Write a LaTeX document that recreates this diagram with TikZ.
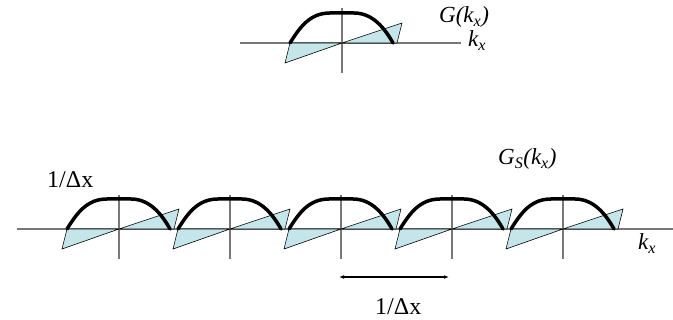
\documentclass[tikz,border=0pt]{standalone}
\usepackage{fontspec}
\setmainfont{Liberation Serif}
\usetikzlibrary{arrows.meta}
\definecolor{specBlue}{RGB}{196, 230, 234}
\definecolor{axisGray}{RGB}{120, 120, 120}
\tikzset{
    axisline/.style={draw=axisGray, line width=1.3},
    italabel/.style={inner sep=0, anchor=base west, font=\fontsize{23}{27}\selectfont\itshape},
    uplabel/.style={inner sep=0, anchor=base west, font=\fontsize{24}{28}\selectfont},
    spectrum/.pic={
        \filldraw[fill=specBlue, draw=black, line width=0.6] (-52,0) -- (-57,20) -- (0,0) -- cycle;
        \filldraw[fill=specBlue, draw=black, line width=0.6] (0,0) -- (60,-20) -- (55,0) -- cycle;
        \draw[black, line width=3.5, line cap=round] (-52,0) .. controls (-42,-16) and (-32,-30) .. (-12,-30)
            -- (12,-30) .. controls (30,-30) and (42,-16) .. (51,0);
    }
}

\begin{document}
\begin{tikzpicture}[x=1pt, y=-1pt]
    \useasboundingbox (0,0) rectangle (673,320);
    % original spectrum
    \coordinate (T0) at (342,43);
    \draw[axisline] (240,43) -- (461,43);
    \draw[axisline] (342,8) -- (342,73);
    \pic at (T0) {spectrum};
    \node[italabel] (gk) at (439,23) {G(k\textsubscript{x})};
    \node[italabel] (kt) at (468,47) {k\textsubscript{x}};
    % sampled spectrum
    \draw[axisline] (17,229) -- (673,229);
    \foreach \c [count=\i] in {119,230,341,452,563} {
        \coordinate (C\i) at (\c,229);
        \draw[axisline] (\c,195) -- (\c,259);
        \pic at (C\i) {spectrum};
    }
    \node[uplabel] (amp) at (47,188) {1/Δx};
    \node[italabel] (gs) at (498,165) {G\textsubscript{S}(k\textsubscript{x})};
    \node[italabel] (kb) at (638,250) {k\textsubscript{x}};
    % period
    \coordinate (P1) at (339,277);
    \coordinate (P2) at (449,277);
    \draw[{Latex[length=5pt]}-{Latex[length=5pt]}, line width=1.2] (P1) -- (P2);
    \node[uplabel] (per) at (375,315) {1/Δx};
\end{tikzpicture}
\end{document}
